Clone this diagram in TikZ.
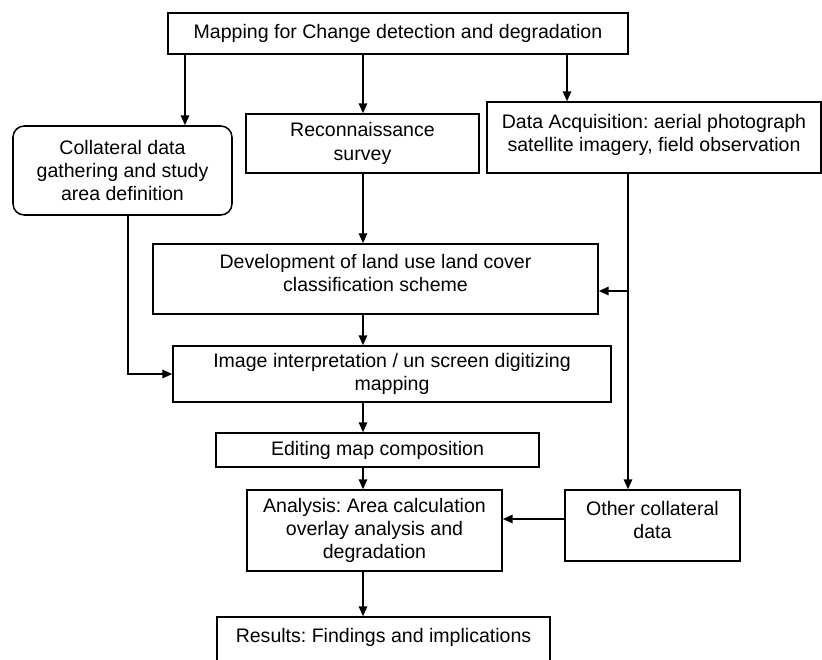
\documentclass[tikz,border=0pt]{standalone}
\usepackage{fontspec}
\setmainfont{Liberation Sans}
\usetikzlibrary{arrows.meta, positioning}
\frenchspacing

\begin{document}
\begin{tikzpicture}[x=0.025cm, y=-0.025cm,
  box/.style={draw, line width=1.1pt, align=center, inner sep=0pt, font=\fontsize{13.9}{16.5}\selectfont},
  arr/.style={line width=1.1pt, -{Triangle[length=7pt,width=6pt]}}]
\useasboundingbox (0,0) rectangle (822,659);
\node[box, minimum width=460*0.025cm, minimum height=41*0.025cm] (map) at (398,33.5) {Mapping for Change detection and degradation};
\node[box, rounded corners=8pt, minimum width=219*0.025cm, minimum height=89*0.025cm] (coll) at (122.5,170.5) {Collateral data\\gathering and study\\area definition};
\node[box, minimum width=233*0.025cm, minimum height=59*0.025cm] (recon) at (362.5,143.5) {Reconnaissance\\survey};
\node[box, minimum width=334*0.025cm, minimum height=71*0.025cm] (acq) at (654,137.5) {Data Acquisition: aerial photograph\\satellite imagery, field observation\\[-10pt]};
\node[box, minimum width=445*0.025cm, minimum height=70*0.025cm] (dev) at (375.5,279) {Development of land use land cover\\classification scheme\\[-8pt]};
\node[box, minimum width=438*0.025cm, minimum height=56*0.025cm] (interp) at (392,374) {Image interpretation / un screen digitizing\\mapping};
\node[box, minimum width=323*0.025cm, minimum height=34*0.025cm] (edit) at (377.5,450) {Editing map composition};
\node[box, minimum width=255*0.025cm, minimum height=81*0.025cm] (anal) at (374.5,530.5) {Analysis: Area calculation\\overlay analysis and\\degradation};
\node[box, minimum width=175*0.025cm, minimum height=71*0.025cm] (other) at (652.5,525.5) {Other collateral\\data\\[-8.5pt]};
\node[box, minimum width=333*0.025cm, minimum height=45*0.025cm] (res) at (383.5,639.5) {Results: Findings and implications\\[-10pt]};
% where the connectors run
\coordinate (lx) at (185,0);
\coordinate (mx) at (363,0);
\coordinate (ax) at (567,0);
\coordinate (rx) at (628,0);
\coordinate (sx) at (128,0);
\coordinate (br) at (628,291);
\coordinate (oy) at (0,519);
\draw[arr] (map.south -| lx) -- (coll.north -| lx);
\draw[arr] (map.south -| mx) -- (recon.north -| mx);
\draw[arr] (map.south -| ax) -- (acq.north -| ax);
\draw[arr] (recon.south -| mx) -- (dev.north -| mx);
\draw[arr] (dev.south -| mx) -- (interp.north -| mx);
\draw[arr] (interp.south -| mx) -- (edit.north -| mx);
\draw[arr] (edit.south -| mx) -- (anal.north -| mx);
\draw[arr] (anal.south -| mx) -- (res.north -| mx);
\draw[arr] (acq.south -| rx) -- (other.north -| rx);
\draw[arr] (br) -- (dev.east |- br);
\draw[arr] (coll.south -| sx) |- (interp.west);
\draw[arr] (other.west |- oy) -- (anal.east |- oy);
\end{tikzpicture}
\end{document}
